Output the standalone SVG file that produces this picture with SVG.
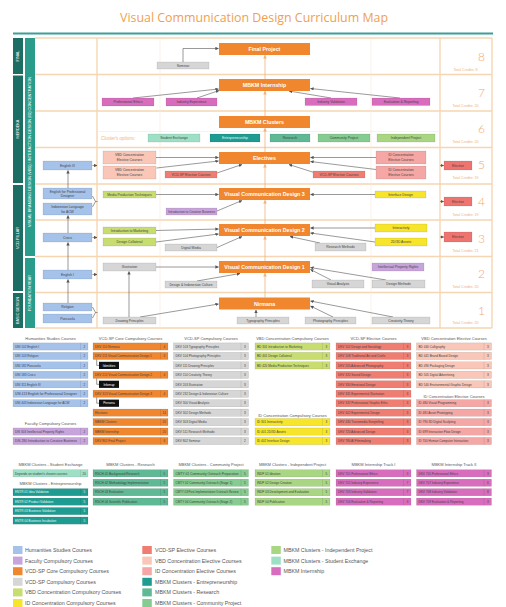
<svg xmlns="http://www.w3.org/2000/svg" width="506" height="607" viewBox="0 0 506 607">
<defs>
<marker id="a" viewBox="0 0 6 6" refX="5.5" refY="3" markerWidth="3.4" markerHeight="3.4" markerUnits="userSpaceOnUse" orient="auto"><path d="M0,0L6,3L0,6z" fill="#555"/></marker>
<marker id="ao" viewBox="0 0 6 6" refX="5.5" refY="3" markerWidth="3.6" markerHeight="3.6" markerUnits="userSpaceOnUse" orient="auto"><path d="M0,0L6,3L0,6z" fill="#f2b07a"/></marker>
</defs>
<style>
text{font-family:"Liberation Sans",Arial,sans-serif}
.ti{font-family:"Open Sans","Liberation Sans",sans-serif;font-size:13px;fill:#ee9f52}
.gl{stroke:#f6d6b2;stroke-width:1.4;fill:none}
.gf{stroke:#f9e8d8;stroke-width:.6;fill:none}
.lb{fill:#fff;font-size:3.8px;text-anchor:middle}
.m rect{fill:#f0862e}
.m text{fill:#fff;font-size:5.3px;font-weight:bold;text-anchor:middle}
.b text{font-size:3.4px;fill:#444;text-anchor:middle}
.b rect{stroke:rgba(0,0,0,.2);stroke-width:.4}
.lt text{fill:#e6f7f4}
.num{font-family:Lato,"Open Sans",sans-serif;font-weight:300;font-size:12px;fill:#f2a869;text-anchor:end}
.tc{font-size:3.6px;fill:#f0b07a;text-anchor:middle}
.c line{stroke:#555;stroke-width:.6;fill:none;marker-end:url(#a)}
.o line{stroke:#f2b07a;stroke-width:.8;marker-end:url(#ao)}
.r rect{stroke:rgba(0,0,0,.2);stroke-width:.4}
.r line{stroke:rgba(0,0,0,.2);stroke-width:.4}
.r text{font-size:3.1px;fill:#444}
.r .k{text-anchor:middle}
.rt text{fill:#e6f7f4}
.sb rect{fill:#111}
.sb text{font-size:3.1px;fill:#fff;text-anchor:middle}
.sb path{stroke:#333;stroke-width:.5;fill:none}
.h{font-size:4px;fill:#555;text-anchor:middle}
.lg text{font-size:5.3px;fill:#555}
.bl{fill:#a5c2ea}.pu{fill:#c8a4dc}.or{fill:#f0862e}.gr{fill:#d6d6d6}.li{fill:#c8dd70}.ye{fill:#f6e52b}
.sa{fill:#f07d72}.lv{fill:#f9c6b7}.pi{fill:#f5a7a5}.te{fill:#1f9c91}.rs{fill:#5fb995}.cm{fill:#86cb8f}
.ip{fill:#a8d682}.se{fill:#9ee0c6}.mg{fill:#d96dbd}.el{fill:#ef7470}
</style>
<rect width="506" height="607" fill="#fff"/>
<text class="ti" x="120" y="22" textLength="268" lengthAdjust="spacingAndGlyphs">Visual Communication Design Curriculum Map</text>
<line x1="13" y1="33.5" x2="493" y2="33.5" stroke="#3a9f98" stroke-width="1.8"/>

<g id="grid">
<path class="gl" d="M35,38H492M35,74.5H492M35,111H492M35,147.5H492M35,184H492M35,220H492M35,256.5H492M35,292.5H492M35,328H492M97,38V328M440,38V328M492,38V328"/>
<path class="gf" d="M160,38V328M371,38V328M97,131.5H440"/>
</g>

<g id="bars">
<rect x="13" y="38" width="10" height="36" fill="#1c6d64"/>
<rect x="13" y="75.5" width="10" height="107.5" fill="#1c6d64"/>
<rect x="13" y="185" width="10" height="106" fill="#1c6d64"/>
<rect x="13" y="293" width="10" height="35" fill="#1c6d64"/>
<rect x="25" y="38" width="10" height="218" fill="#2a9c8c"/>
<rect x="25" y="258" width="10" height="70" fill="#2a9c8c"/>
<text class="lb" transform="translate(19.3,56) rotate(-90)">FINAL</text>
<text class="lb" transform="translate(19.3,129) rotate(-90)">MERDEKA</text>
<text class="lb" transform="translate(19.3,238) rotate(-90)">VCD PILLAR</text>
<text class="lb" transform="translate(19.3,310.5) rotate(-90)">BASIC DESIGN</text>
<text class="lb" transform="translate(31.3,152) rotate(-90)" textLength="150" lengthAdjust="spacingAndGlyphs">VISUAL BRANDING DESIGN (VBD) / INTERACTION DESIGN (ID) CONCENTRATION</text>
<text class="lb" transform="translate(31.3,293) rotate(-90)">FOUNDATION YEAR</text>
</g>

<g id="credits">
<text class="num" x="485" y="61">8</text><text class="tc" x="465.5" y="71">Total Credits: 8</text>
<text class="num" x="485" y="97">7</text><text class="tc" x="465.5" y="106.5">Total Credits: 20</text>
<text class="num" x="485" y="133">6</text><text class="tc" x="465.5" y="142.7">Total Credits: 20</text>
<text class="num" x="485" y="169">5</text><text class="tc" x="465.5" y="179">Total Credits: 19</text>
<text class="num" x="485" y="206">4</text><text class="tc" x="465.5" y="215.5">Total Credits: 19</text>
<text class="num" x="485" y="242.5">3</text><text class="tc" x="465.5" y="251.7">Total Credits: 21</text>
<text class="num" x="485" y="278">2</text><text class="tc" x="465.5" y="287.7">Total Credits: 20</text>
<text class="num" x="485" y="315">1</text><text class="tc" x="465.5" y="324.3">Total Credits: 20</text>
</g>

<g id="connectors">
<g class="o">
<line x1="265" y1="297.5" x2="265" y2="273.2"/>
<line x1="265" y1="261" x2="265" y2="236.2"/>
<line x1="265" y1="224" x2="265" y2="200.2"/>
<line x1="265" y1="188" x2="265" y2="164.2"/>
<line x1="265" y1="152" x2="265" y2="128.2"/>
<line x1="265" y1="116" x2="265" y2="91.2"/>
<line x1="265" y1="79" x2="265" y2="55.2"/>
</g>
<g class="c">
<path d="M183,62V48.5H218.5" stroke="#555" stroke-width=".6" fill="none" marker-end="url(#a)"/>
<line x1="133" y1="98" x2="218.5" y2="89"/>
<line x1="197" y1="98" x2="219" y2="90.5"/>
<line x1="331" y1="98" x2="289" y2="91"/>
<line x1="400" y1="98" x2="310.5" y2="88.5"/>
<line x1="156" y1="157.5" x2="218.5" y2="157.5"/>
<line x1="156.5" y1="168" x2="218.5" y2="161"/>
<line x1="217" y1="173" x2="242" y2="164.5"/>
<line x1="376" y1="157.5" x2="310.5" y2="157.5"/>
<line x1="376" y1="169.5" x2="310.5" y2="161.5"/>
<line x1="314" y1="172.5" x2="289" y2="164.5"/>
<line x1="440" y1="165.5" x2="443.8" y2="165.5"/>
<line x1="156" y1="194.5" x2="218.5" y2="194.5"/>
<line x1="217" y1="211" x2="242" y2="200.5"/>
<line x1="375" y1="194.5" x2="310.5" y2="194.5"/>
<line x1="440" y1="201.5" x2="443.8" y2="201.5"/>
<line x1="156" y1="230.5" x2="218.5" y2="229"/>
<line x1="156" y1="242" x2="218.5" y2="234"/>
<line x1="217" y1="247.5" x2="242" y2="236.5"/>
<line x1="375" y1="228" x2="310.5" y2="228"/>
<line x1="375" y1="242" x2="310.5" y2="233"/>
<line x1="320" y1="243" x2="290" y2="236.5"/>
<line x1="440" y1="237" x2="443.8" y2="237"/>
<line x1="156" y1="267" x2="218.5" y2="267"/>
<line x1="197" y1="281" x2="240" y2="273.5"/>
<line x1="331" y1="280" x2="310.5" y2="269.5"/>
<line x1="386" y1="280" x2="310.5" y2="267.5"/>
<line x1="129" y1="317" x2="129" y2="271.5"/>
<line x1="140" y1="317" x2="218.5" y2="304"/>
<line x1="256" y1="317" x2="256" y2="310"/>
<line x1="333" y1="317" x2="310.5" y2="306"/>
<line x1="393" y1="317" x2="310.5" y2="301"/>
<line x1="68" y1="303" x2="68" y2="279.5"/>
<line x1="68" y1="270" x2="68" y2="242.5"/>
<line x1="68" y1="233" x2="68" y2="215.5"/>
<line x1="68" y1="188" x2="68" y2="170.5"/>
<line x1="92.5" y1="165.5" x2="97" y2="165.5"/>
<line x1="92.5" y1="237.5" x2="97" y2="237.5"/>
<line x1="92.5" y1="274.5" x2="97" y2="274.5"/>
<path d="M92.5,196L95.5,201.5L92.5,207M95.5,201.5H97.5" stroke="#555" stroke-width=".6" fill="none"/>
<path d="M92.5,307L95.5,312.5L92.5,318M95.5,312.5H97.5" stroke="#555" stroke-width=".6" fill="none"/>
</g>
</g>

<g id="final-project" class="m"><rect x="219" y="43" width="91" height="12"/><text x="264.5" y="51">Final Project</text></g>
<g id="mbkm-internship" class="m"><rect x="219" y="79" width="91" height="12"/><text x="264.5" y="87">MBKM Internship</text></g>
<g id="mbkm-clusters" class="m"><rect x="219" y="116" width="91" height="12"/><text x="264.5" y="124">MBKM Clusters</text></g>
<g id="electives" class="m"><rect x="219" y="152" width="91" height="12"/><text x="264.5" y="160">Electives</text></g>
<g id="vcd3" class="m"><rect x="219" y="188" width="91" height="12"/><text x="264.5" y="196">Visual Communication Design 3</text></g>
<g id="vcd2" class="m"><rect x="219" y="224" width="91" height="12"/><text x="264.5" y="232">Visual Communication Design 2</text></g>
<g id="vcd1" class="m"><rect x="219" y="261" width="91" height="12"/><text x="264.5" y="269">Visual Communication Design 1</text></g>
<g id="nirmana" class="m"><rect x="219" y="297.5" width="91" height="12"/><text x="264.5" y="305.5">Nirmana</text></g>

<g id="seminar" class="b"><rect class="gr" x="157" y="62" width="52" height="7"/><text x="183" y="66.7">Seminar</text></g>
<g id="prof-ethics" class="b"><rect class="mg" x="102" y="98" width="52" height="8"/><text x="128" y="103.2">Professional Ethics</text></g>
<g id="ind-exp" class="b"><rect class="mg" x="166" y="98" width="51" height="8"/><text x="191.5" y="103.2">Industry Experience</text></g>
<g id="ind-val" class="b"><rect class="mg" x="305" y="98" width="52" height="7.5"/><text x="331" y="103">Industry Validation</text></g>
<g id="eval-rep" class="b"><rect class="mg" x="372" y="98" width="58" height="7.5"/><text x="401" y="103">Evaluation &amp; Reporting</text></g>

<text x="101" y="139.8" font-size="4.5" font-style="italic" fill="#f0b47a">Cluster's options:</text>
<g id="opt-se" class="b"><rect class="se" x="148" y="134" width="52" height="8"/><text x="174" y="139.2">Student Exchange</text></g>
<g id="opt-en" class="b lt"><rect class="te" x="210" y="134" width="50" height="8"/><text x="235" y="139.2">Entrepreneurship</text></g>
<g id="opt-rs" class="b"><rect class="rs" x="270" y="134" width="40" height="8"/><text x="290" y="139.2">Research</text></g>
<g id="opt-cm" class="b"><rect class="cm" x="318" y="134" width="52" height="8"/><text x="344" y="139.2">Community Project</text></g>
<g id="opt-ip" class="b"><rect class="ip" x="377" y="134" width="58" height="8"/><text x="406" y="139.2">Independent Project</text></g>

<g id="english3" class="b"><rect class="bl" x="43" y="161" width="49" height="9"/><text x="67.5" y="166.7">English III</text></g>
<g id="vbd-el1" class="b"><rect class="lv" x="103" y="151" width="53" height="13"/><text x="129.5" y="156.3">VBD Concentration</text><text x="129.5" y="160.6">Elective Courses</text></g>
<g id="vbd-el2" class="b"><rect class="lv" x="103" y="166" width="53" height="13"/><text x="129.5" y="171.3">VBD Concentration</text><text x="129.5" y="175.6">Elective Courses</text></g>
<g id="vcdsp-el1" class="b"><rect class="sa" x="165" y="171" width="52" height="7"/><text x="191" y="175.7">VCD-SP Elective Courses</text></g>
<g id="vcdsp-el2" class="b"><rect class="sa" x="313" y="171" width="52" height="7"/><text x="339" y="175.7">VCD-SP Elective Courses</text></g>
<g id="id-el1" class="b"><rect class="pi" x="376" y="151" width="50" height="13"/><text x="401" y="156.3">ID Concentration</text><text x="401" y="160.6">Elective Courses</text></g>
<g id="id-el2" class="b"><rect class="pi" x="376" y="166" width="50" height="13"/><text x="401" y="171.3">ID Concentration</text><text x="401" y="175.6">Elective Courses</text></g>
<g id="elective5" class="b"><rect class="el" x="444" y="161" width="28" height="9"/><text x="458" y="166.7">Elective</text></g>

<g id="eng-pd" class="b"><rect class="bl" x="43" y="188" width="49" height="11"/><text x="67.5" y="192.7">English for Professional</text><text x="67.5" y="197">Designer</text></g>
<g id="ind-lang" class="b"><rect class="bl" x="43" y="203" width="49" height="12"/><text x="67.5" y="208.2">Indonesian Language</text><text x="67.5" y="212.5">for ACW</text></g>
<g id="media-prod" class="b"><rect class="li" x="103" y="191" width="53" height="7"/><text x="129.5" y="195.7">Media Production Techniques</text></g>
<g id="intro-cb" class="b"><rect class="pu" x="166" y="208" width="51" height="7"/><text x="191.5" y="212.7" textLength="47" lengthAdjust="spacingAndGlyphs">Introduction to Creative Business</text></g>
<g id="interface" class="b"><rect class="ye" x="375" y="191" width="51" height="7"/><text x="400.5" y="195.7">Interface Design</text></g>
<g id="elective4" class="b"><rect class="el" x="444" y="197" width="28" height="9"/><text x="458" y="202.7">Elective</text></g>

<g id="civics" class="b"><rect class="bl" x="43" y="233" width="49" height="9"/><text x="67.5" y="238.7">Civics</text></g>
<g id="intro-mkt" class="b"><rect class="li" x="103" y="227" width="53" height="7"/><text x="129.5" y="231.7">Introduction to Marketing</text></g>
<g id="design-col" class="b"><rect class="li" x="103" y="238" width="53" height="8"/><text x="129.5" y="243.2">Design Collateral</text></g>
<g id="digital-media" class="b"><rect class="gr" x="165" y="244" width="52" height="7"/><text x="191" y="248.7">Digital Media</text></g>
<g id="interactivity" class="b"><rect class="ye" x="375" y="224" width="52" height="8"/><text x="401" y="229.2">Interactivity</text></g>
<g id="assets" class="b"><rect class="ye" x="375" y="238" width="52" height="8"/><text x="401" y="243.2">2D/3D Assets</text></g>
<g id="research-m" class="b"><rect class="gr" x="315" y="243" width="51" height="8"/><text x="340.5" y="248.2">Research Methods</text></g>
<g id="elective3" class="b"><rect class="el" x="444" y="232" width="28" height="10"/><text x="458" y="238.2">Elective</text></g>

<g id="english1" class="b"><rect class="bl" x="43" y="270" width="49" height="9"/><text x="67.5" y="275.7">English I</text></g>
<g id="illustration" class="b"><rect class="gr" x="103" y="263" width="53" height="8"/><text x="129.5" y="268.2">Illustration</text></g>
<g id="design-ic" class="b"><rect class="gr" x="165" y="281" width="52" height="7"/><text x="191" y="285.7">Design &amp; Indonesian Culture</text></g>
<g id="ipr" class="b"><rect class="pu" x="372" y="263" width="52" height="8"/><text x="398" y="268.2">Intellectual Property Rights</text></g>
<g id="visual-an" class="b"><rect class="gr" x="312" y="280" width="52" height="8"/><text x="338" y="285.2">Visual Analysis</text></g>
<g id="design-m" class="b"><rect class="gr" x="372" y="280" width="53" height="8"/><text x="398.5" y="285.2">Design Methods</text></g>

<g id="religion" class="b"><rect class="bl" x="43" y="303" width="49" height="8"/><text x="67.5" y="308.2">Religion</text></g>
<g id="pancasila" class="b"><rect class="bl" x="43" y="314" width="49" height="9"/><text x="67.5" y="319.7">Pancasila</text></g>
<g id="drawing" class="b"><rect class="gr" x="103" y="317" width="53" height="7"/><text x="129.5" y="321.7">Drawing Principles</text></g>
<g id="typo" class="b"><rect class="gr" x="237" y="317" width="52" height="7"/><text x="263" y="321.7">Typography Principles</text></g>
<g id="photo" class="b"><rect class="gr" x="305" y="317" width="51" height="7"/><text x="330.5" y="321.7">Photography Principles</text></g>
<g id="creativity" class="b"><rect class="gr" x="372" y="317" width="58" height="7"/><text x="401" y="321.7">Creativity Theory</text></g>

<g id="tables">
<text class="h" x="50.5" y="340">Humanities Studies Courses</text>
<text class="h" x="130.5" y="340">VCD-SP Core Compulsory Courses</text>
<text class="h" x="211" y="340">VCD-SP Compulsory Courses</text>
<text class="h" x="292.5" y="340">VBD Concentration Compulsory Courses</text>
<text class="h" x="373.5" y="340">VCD-SP Elective Courses</text>
<text class="h" x="454" y="340">VBD Concentration Elective Courses</text>
<text class="h" x="50.5" y="425">Faculty Compulsory Courses</text>
<text class="h" x="292.5" y="416.5">ID Concentration Compulsory Courses</text>
<text class="h" x="454" y="397.5">ID Concentration Elective Courses</text>

<g id="hu0" class="r" transform="translate(13,342.9)"><rect class="bl" width="75" height="7.2"/><line x1="67.5" x2="67.5" y2="7.2"/><text x="2" y="4.85">UNI 102 English I</text><text class="k" x="71.3" y="4.85">2</text></g>
<g id="hu1" class="r" transform="translate(13,352.35)"><rect class="bl" width="75" height="7.2"/><line x1="67.5" x2="67.5" y2="7.2"/><text x="2" y="4.85">UNI 103 Religion</text><text class="k" x="71.3" y="4.85">2</text></g>
<g id="hu2" class="r" transform="translate(13,361.8)"><rect class="bl" width="75" height="7.2"/><line x1="67.5" x2="67.5" y2="7.2"/><text x="2" y="4.85">UNI 182 Pancasila</text><text class="k" x="71.3" y="4.85">2</text></g>
<g id="hu3" class="r" transform="translate(13,371.25)"><rect class="bl" width="75" height="7.2"/><line x1="67.5" x2="67.5" y2="7.2"/><text x="2" y="4.85">UNI 183 Civics</text><text class="k" x="71.3" y="4.85">2</text></g>
<g id="hu4" class="r" transform="translate(13,380.7)"><rect class="bl" width="75" height="7.2"/><line x1="67.5" x2="67.5" y2="7.2"/><text x="2" y="4.85">UNI 311 English III</text><text class="k" x="71.3" y="4.85">2</text></g>
<g id="hu5" class="r" transform="translate(13,390.15)"><rect class="bl" width="75" height="7.2"/><line x1="67.5" x2="67.5" y2="7.2"/><text x="2" y="4.85" textLength="62" lengthAdjust="spacingAndGlyphs">UNI 413 English for Professional Designer</text><text class="k" x="71.3" y="4.85">2</text></g>
<g id="hu6" class="r" transform="translate(13,399.6)"><rect class="bl" width="75" height="7.2"/><line x1="67.5" x2="67.5" y2="7.2"/><text x="2" y="4.85">UNI 443 Indonesian Language for ACW</text><text class="k" x="71.3" y="4.85">2</text></g>
<g id="fa0" class="r" transform="translate(13,427.95)"><rect class="pu" width="75" height="7.2"/><line x1="67.5" x2="67.5" y2="7.2"/><text x="2" y="4.85">DIS 303 Intellectual Property Rights</text><text class="k" x="71.3" y="4.85">2</text></g>
<g id="fa1" class="r" transform="translate(13,437.4)"><rect class="pu" width="75" height="7.2"/><line x1="67.5" x2="67.5" y2="7.2"/><text x="2" y="4.85" textLength="62" lengthAdjust="spacingAndGlyphs">DIS 280 Introduction to Creative Business</text><text class="k" x="71.3" y="4.85">2</text></g>

<g id="co0" class="r" transform="translate(93,342.9)"><rect class="or" width="75" height="7.2"/><line x1="67.5" x2="67.5" y2="7.2"/><text x="2" y="4.85">DKV 110 Nirmana</text><text class="k" x="71.3" y="4.85">4</text></g>
<g id="co1" class="r" transform="translate(93,352.35)"><rect class="or" width="75" height="7.2"/><line x1="67.5" x2="67.5" y2="7.2"/><text x="2" y="4.85">DKV 211 Visual Communication Design 1</text><text class="k" x="71.3" y="4.85">4</text></g>
<g id="co1s" class="sb" transform="translate(93,361.8)"><path d="M3.7,-2.2V3.6H6"/><rect x="6" width="20" height="7.2"/><text x="16" y="4.85">Identities</text></g>
<g id="co2" class="r" transform="translate(93,371.25)"><rect class="or" width="75" height="7.2"/><line x1="67.5" x2="67.5" y2="7.2"/><text x="2" y="4.85">DKV 212 Visual Communication Design 2</text><text class="k" x="71.3" y="4.85">4</text></g>
<g id="co2s" class="sb" transform="translate(93,380.7)"><path d="M3.7,-2.2V3.6H6"/><rect x="6" width="20" height="7.2"/><text x="16" y="4.85">Infomap</text></g>
<g id="co3" class="r" transform="translate(93,390.15)"><rect class="or" width="75" height="7.2"/><line x1="67.5" x2="67.5" y2="7.2"/><text x="2" y="4.85">DKV 313 Visual Communication Design 3</text><text class="k" x="71.3" y="4.85">4</text></g>
<g id="co3s" class="sb" transform="translate(93,399.6)"><path d="M3.7,-2.2V3.6H6"/><rect x="6" width="20" height="7.2"/><text x="16" y="4.85">Persona</text></g>
<g id="co4" class="r" transform="translate(93,409.05)"><rect class="or" width="75" height="7.2"/><line x1="67.5" x2="67.5" y2="7.2"/><text x="2" y="4.85">Electives</text><text class="k" x="71.3" y="4.85">14</text></g>
<g id="co5" class="r" transform="translate(93,418.5)"><rect class="or" width="75" height="7.2"/><line x1="67.5" x2="67.5" y2="7.2"/><text x="2" y="4.85">MBKM Clusters</text><text class="k" x="71.3" y="4.85">20</text></g>
<g id="co6" class="r" transform="translate(93,427.95)"><rect class="or" width="75" height="7.2"/><line x1="67.5" x2="67.5" y2="7.2"/><text x="2" y="4.85">MBKM Internship</text><text class="k" x="71.3" y="4.85">20</text></g>
<g id="co7" class="r" transform="translate(93,437.4)"><rect class="or" width="75" height="7.2"/><line x1="67.5" x2="67.5" y2="7.2"/><text x="2" y="4.85">DKV 801 Final Project</text><text class="k" x="71.3" y="4.85">6</text></g>

<g id="cp0" class="r" transform="translate(173.5,342.9)"><rect class="gr" width="75" height="7.2"/><line x1="67.5" x2="67.5" y2="7.2"/><text x="2" y="4.85">DKV 103 Typography Principles</text><text class="k" x="71.3" y="4.85">3</text></g>
<g id="cp1" class="r" transform="translate(173.5,352.35)"><rect class="gr" width="75" height="7.2"/><line x1="67.5" x2="67.5" y2="7.2"/><text x="2" y="4.85">DKV 104 Photography Principles</text><text class="k" x="71.3" y="4.85">3</text></g>
<g id="cp2" class="r" transform="translate(173.5,361.8)"><rect class="gr" width="75" height="7.2"/><line x1="67.5" x2="67.5" y2="7.2"/><text x="2" y="4.85">DKV 111 Drawing Principles</text><text class="k" x="71.3" y="4.85">3</text></g>
<g id="cp3" class="r" transform="translate(173.5,371.25)"><rect class="gr" width="75" height="7.2"/><line x1="67.5" x2="67.5" y2="7.2"/><text x="2" y="4.85">DKV 114 Creativity Theory</text><text class="k" x="71.3" y="4.85">3</text></g>
<g id="cp4" class="r" transform="translate(173.5,380.7)"><rect class="gr" width="75" height="7.2"/><line x1="67.5" x2="67.5" y2="7.2"/><text x="2" y="4.85">DKV 203 Illustration</text><text class="k" x="71.3" y="4.85">3</text></g>
<g id="cp5" class="r" transform="translate(173.5,390.15)"><rect class="gr" width="75" height="7.2"/><line x1="67.5" x2="67.5" y2="7.2"/><text x="2" y="4.85">DKV 232 Design &amp; Indonesian Culture</text><text class="k" x="71.3" y="4.85">3</text></g>
<g id="cp6" class="r" transform="translate(173.5,399.6)"><rect class="gr" width="75" height="7.2"/><line x1="67.5" x2="67.5" y2="7.2"/><text x="2" y="4.85">DKV 300 Visual Analysis</text><text class="k" x="71.3" y="4.85">3</text></g>
<g id="cp7" class="r" transform="translate(173.5,409.05)"><rect class="gr" width="75" height="7.2"/><line x1="67.5" x2="67.5" y2="7.2"/><text x="2" y="4.85">DKV 302 Design Methods</text><text class="k" x="71.3" y="4.85">3</text></g>
<g id="cp8" class="r" transform="translate(173.5,418.5)"><rect class="gr" width="75" height="7.2"/><line x1="67.5" x2="67.5" y2="7.2"/><text x="2" y="4.85">DKV 303 Digital Media</text><text class="k" x="71.3" y="4.85">3</text></g>
<g id="cp9" class="r" transform="translate(173.5,427.95)"><rect class="gr" width="75" height="7.2"/><line x1="67.5" x2="67.5" y2="7.2"/><text x="2" y="4.85">DKV 511 Research Methods</text><text class="k" x="71.3" y="4.85">3</text></g>
<g id="cp10" class="r" transform="translate(173.5,437.4)"><rect class="gr" width="75" height="7.2"/><line x1="67.5" x2="67.5" y2="7.2"/><text x="2" y="4.85">DKV 802 Seminar</text><text class="k" x="71.3" y="4.85">2</text></g>

<g id="vb0" class="r" transform="translate(255,342.9)"><rect class="li" width="75" height="7.2"/><line x1="67.5" x2="67.5" y2="7.2"/><text x="2" y="4.85">BD 301 Introduction to Marketing</text><text class="k" x="71.3" y="4.85">3</text></g>
<g id="vb1" class="r" transform="translate(255,352.35)"><rect class="li" width="75" height="7.2"/><line x1="67.5" x2="67.5" y2="7.2"/><text x="2" y="4.85">BD 401 Design Collateral</text><text class="k" x="71.3" y="4.85">3</text></g>
<g id="vb2" class="r" transform="translate(255,361.8)"><rect class="li" width="75" height="7.2"/><line x1="67.5" x2="67.5" y2="7.2"/><text x="2" y="4.85">BD 420 Media Production Techniques</text><text class="k" x="71.3" y="4.85">3</text></g>
<g id="ic0" class="r" transform="translate(255,418.5)"><rect class="ye" width="75" height="7.2"/><line x1="67.5" x2="67.5" y2="7.2"/><text x="2" y="4.85">ID 301 Interactivity</text><text class="k" x="71.3" y="4.85">3</text></g>
<g id="ic1" class="r" transform="translate(255,427.95)"><rect class="ye" width="75" height="7.2"/><line x1="67.5" x2="67.5" y2="7.2"/><text x="2" y="4.85">ID 401 2D/3D Assets</text><text class="k" x="71.3" y="4.85">3</text></g>
<g id="ic2" class="r" transform="translate(255,437.4)"><rect class="ye" width="75" height="7.2"/><line x1="67.5" x2="67.5" y2="7.2"/><text x="2" y="4.85">ID 402 Interface Design</text><text class="k" x="71.3" y="4.85">3</text></g>

<g id="ve0" class="r" transform="translate(336,342.9)"><rect class="sa" width="75" height="7.2"/><line x1="67.5" x2="67.5" y2="7.2"/><text x="2" y="4.85">DKV 102 Design and Sociology</text><text class="k" x="71.3" y="4.85">3</text></g>
<g id="ve1" class="r" transform="translate(336,352.35)"><rect class="sa" width="75" height="7.2"/><line x1="67.5" x2="67.5" y2="7.2"/><text x="2" y="4.85">DKV 108 Traditional Art and Crafts</text><text class="k" x="71.3" y="4.85">3</text></g>
<g id="ve2" class="r" transform="translate(336,361.8)"><rect class="sa" width="75" height="7.2"/><line x1="67.5" x2="67.5" y2="7.2"/><text x="2" y="4.85">DKV 205 Advanced Photography</text><text class="k" x="71.3" y="4.85">3</text></g>
<g id="ve3" class="r" transform="translate(336,371.25)"><rect class="sa" width="75" height="7.2"/><line x1="67.5" x2="67.5" y2="7.2"/><text x="2" y="4.85">DKV 320 Sound Design</text><text class="k" x="71.3" y="4.85">3</text></g>
<g id="ve4" class="r" transform="translate(336,380.7)"><rect class="sa" width="75" height="7.2"/><line x1="67.5" x2="67.5" y2="7.2"/><text x="2" y="4.85">DKV 330 Emotional Design</text><text class="k" x="71.3" y="4.85">3</text></g>
<g id="ve5" class="r" transform="translate(336,390.15)"><rect class="sa" width="75" height="7.2"/><line x1="67.5" x2="67.5" y2="7.2"/><text x="2" y="4.85">DKV 331 Experimental Illustration</text><text class="k" x="71.3" y="4.85">3</text></g>
<g id="ve6" class="r" transform="translate(336,399.6)"><rect class="sa" width="75" height="7.2"/><line x1="67.5" x2="67.5" y2="7.2"/><text x="2" y="4.85">DKV 332 Professional Graphic Ethic</text><text class="k" x="71.3" y="4.85">3</text></g>
<g id="ve7" class="r" transform="translate(336,409.05)"><rect class="sa" width="75" height="7.2"/><line x1="67.5" x2="67.5" y2="7.2"/><text x="2" y="4.85">DKV 402 Experimental Design</text><text class="k" x="71.3" y="4.85">3</text></g>
<g id="ve8" class="r" transform="translate(336,418.5)"><rect class="sa" width="75" height="7.2"/><line x1="67.5" x2="67.5" y2="7.2"/><text x="2" y="4.85">DKV 430 Transmedia Storytelling</text><text class="k" x="71.3" y="4.85">3</text></g>
<g id="ve9" class="r" transform="translate(336,427.95)"><rect class="sa" width="75" height="7.2"/><line x1="67.5" x2="67.5" y2="7.2"/><text x="2" y="4.85">DKV 720 Advanced Design</text><text class="k" x="71.3" y="4.85">3</text></g>
<g id="ve10" class="r" transform="translate(336,437.4)"><rect class="sa" width="75" height="7.2"/><line x1="67.5" x2="67.5" y2="7.2"/><text x="2" y="4.85">DKV 780 AI Filmmaking</text><text class="k" x="71.3" y="4.85">3</text></g>

<g id="be0" class="r" transform="translate(416.5,342.9)"><rect class="lv" width="75" height="7.2"/><line x1="67.5" x2="67.5" y2="7.2"/><text x="2" y="4.85">BD 440 Calligraphy</text><text class="k" x="71.3" y="4.85">3</text></g>
<g id="be1" class="r" transform="translate(416.5,352.35)"><rect class="lv" width="75" height="7.2"/><line x1="67.5" x2="67.5" y2="7.2"/><text x="2" y="4.85">BD 441 Brand Based Design</text><text class="k" x="71.3" y="4.85">3</text></g>
<g id="be2" class="r" transform="translate(416.5,361.8)"><rect class="lv" width="75" height="7.2"/><line x1="67.5" x2="67.5" y2="7.2"/><text x="2" y="4.85">BD 490 Packaging Design</text><text class="k" x="71.3" y="4.85">3</text></g>
<g id="be3" class="r" transform="translate(416.5,371.25)"><rect class="lv" width="75" height="7.2"/><line x1="67.5" x2="67.5" y2="7.2"/><text x="2" y="4.85">BD 505 Digital Advertising</text><text class="k" x="71.3" y="4.85">3</text></g>
<g id="be4" class="r" transform="translate(416.5,380.7)"><rect class="lv" width="75" height="7.2"/><line x1="67.5" x2="67.5" y2="7.2"/><text x="2" y="4.85">BD 540 Environmental Graphic Design</text><text class="k" x="71.3" y="4.85">3</text></g>
<g id="ie0" class="r" transform="translate(416.5,399.6)"><rect class="pi" width="75" height="7.2"/><line x1="67.5" x2="67.5" y2="7.2"/><text x="2" y="4.85">ID 480 Visual Programming</text><text class="k" x="71.3" y="4.85">3</text></g>
<g id="ie1" class="r" transform="translate(416.5,409.05)"><rect class="pi" width="75" height="7.2"/><line x1="67.5" x2="67.5" y2="7.2"/><text x="2" y="4.85">ID 481 Asset Prototyping</text><text class="k" x="71.3" y="4.85">3</text></g>
<g id="ie2" class="r" transform="translate(416.5,418.5)"><rect class="pi" width="75" height="7.2"/><line x1="67.5" x2="67.5" y2="7.2"/><text x="2" y="4.85">ID 790 3D Digital Sculpting</text><text class="k" x="71.3" y="4.85">3</text></g>
<g id="ie3" class="r" transform="translate(416.5,427.95)"><rect class="pi" width="75" height="7.2"/><line x1="67.5" x2="67.5" y2="7.2"/><text x="2" y="4.85">ID 699 Interaction Flow Design</text><text class="k" x="71.3" y="4.85">3</text></g>
<g id="ie4" class="r" transform="translate(416.5,437.4)"><rect class="pi" width="75" height="7.2"/><line x1="67.5" x2="67.5" y2="7.2"/><text x="2" y="4.85">ID 700 Human Computer Interaction</text><text class="k" x="71.3" y="4.85">3</text></g>
</g>

<g id="mbkm-tables">
<text class="h" x="50.5" y="465.6">MBKM Clusters - Student Exchange</text>
<text class="h" x="130.5" y="465.6">MBKM Clusters - Research</text>
<text class="h" x="211" y="465.6">MBKM Clusters - Community Project</text>
<text class="h" x="292.5" y="465.6">MBKM Clusters - Independent Project</text>
<text class="h" x="373.5" y="465.6">MBKM Internship Track I</text>
<text class="h" x="454" y="465.6">MBKM Internship Track II</text>
<text class="h" x="50.5" y="485">MBKM Clusters - Entrepreneurship</text>

<g id="se0" class="r" transform="translate(13,469.7)"><rect class="se" width="75" height="7.2"/><line x1="67.5" x2="67.5" y2="7.2"/><text x="2" y="4.85">Depends on student's chosen courses</text><text class="k" x="71.3" y="4.85">20</text></g>
<g id="en0" class="r rt" transform="translate(13,488.6)"><rect class="te" width="75" height="7.2"/><line x1="67.5" x2="67.5" y2="7.2"/><text x="2" y="4.85">ENTR 01 Idea Validation</text><text class="k" x="71.3" y="4.85">5</text></g>
<g id="en1" class="r rt" transform="translate(13,498.05)"><rect class="te" width="75" height="7.2"/><line x1="67.5" x2="67.5" y2="7.2"/><text x="2" y="4.85">ENTR 02 Product Validation</text><text class="k" x="71.3" y="4.85">5</text></g>
<g id="en2" class="r rt" transform="translate(13,507.5)"><rect class="te" width="75" height="7.2"/><line x1="67.5" x2="67.5" y2="7.2"/><text x="2" y="4.85">ENTR 03 Business Validation</text><text class="k" x="71.3" y="4.85">5</text></g>
<g id="en3" class="r rt" transform="translate(13,516.95)"><rect class="te" width="75" height="7.2"/><line x1="67.5" x2="67.5" y2="7.2"/><text x="2" y="4.85">ENTR 04 Business Incubation</text><text class="k" x="71.3" y="4.85">5</text></g>

<g id="rs0" class="r" transform="translate(93,469.7)"><rect class="rs" width="75" height="7.2"/><line x1="67.5" x2="67.5" y2="7.2"/><text x="2" y="4.85">RSCH 01 Background Research</text><text class="k" x="71.3" y="4.85">5</text></g>
<g id="rs1" class="r" transform="translate(93,479.15)"><rect class="rs" width="75" height="7.2"/><line x1="67.5" x2="67.5" y2="7.2"/><text x="2" y="4.85">RSCH 02 Methodology Implementation</text><text class="k" x="71.3" y="4.85">5</text></g>
<g id="rs2" class="r" transform="translate(93,488.6)"><rect class="rs" width="75" height="7.2"/><line x1="67.5" x2="67.5" y2="7.2"/><text x="2" y="4.85">RSCH 03 Evaluation</text><text class="k" x="71.3" y="4.85">5</text></g>
<g id="rs3" class="r" transform="translate(93,498.05)"><rect class="rs" width="75" height="7.2"/><line x1="67.5" x2="67.5" y2="7.2"/><text x="2" y="4.85">RSCH 04 Scientific Publication</text><text class="k" x="71.3" y="4.85">5</text></g>

<g id="cm0" class="r" transform="translate(173.5,469.7)"><rect class="cm" width="75" height="7.2"/><line x1="67.5" x2="67.5" y2="7.2"/><text x="2" y="4.85" textLength="63" lengthAdjust="spacingAndGlyphs">CMTY 01 Community Outreach Preparation</text><text class="k" x="71.3" y="4.85">5</text></g>
<g id="cm1" class="r" transform="translate(173.5,479.15)"><rect class="cm" width="75" height="7.2"/><line x1="67.5" x2="67.5" y2="7.2"/><text x="2" y="4.85">CMTY 02 Community Outreach (Stage 1)</text><text class="k" x="71.3" y="4.85">5</text></g>
<g id="cm2" class="r" transform="translate(173.5,488.6)"><rect class="cm" width="75" height="7.2"/><line x1="67.5" x2="67.5" y2="7.2"/><text x="2" y="4.85" textLength="63" lengthAdjust="spacingAndGlyphs">CMTY 03 Post-Implementation Outreach Review</text><text class="k" x="71.3" y="4.85">5</text></g>
<g id="cm3" class="r" transform="translate(173.5,498.05)"><rect class="cm" width="75" height="7.2"/><line x1="67.5" x2="67.5" y2="7.2"/><text x="2" y="4.85">CMTY 04 Community Outreach (Stage 2)</text><text class="k" x="71.3" y="4.85">5</text></g>

<g id="ip0" class="r" transform="translate(255,469.7)"><rect class="ip" width="75" height="7.2"/><line x1="67.5" x2="67.5" y2="7.2"/><text x="2" y="4.85">INDP 01 Ideation</text><text class="k" x="71.3" y="4.85">5</text></g>
<g id="ip1" class="r" transform="translate(255,479.15)"><rect class="ip" width="75" height="7.2"/><line x1="67.5" x2="67.5" y2="7.2"/><text x="2" y="4.85">INDP 02 Design Creation</text><text class="k" x="71.3" y="4.85">5</text></g>
<g id="ip2" class="r" transform="translate(255,488.6)"><rect class="ip" width="75" height="7.2"/><line x1="67.5" x2="67.5" y2="7.2"/><text x="2" y="4.85">INDP 03 Development and Evaluation</text><text class="k" x="71.3" y="4.85">5</text></g>
<g id="ip3" class="r" transform="translate(255,498.05)"><rect class="ip" width="75" height="7.2"/><line x1="67.5" x2="67.5" y2="7.2"/><text x="2" y="4.85">INDP 04 Publication</text><text class="k" x="71.3" y="4.85">5</text></g>

<g id="t1a" class="r" transform="translate(336,469.7)"><rect class="mg" width="75" height="7.2"/><line x1="67.5" x2="67.5" y2="7.2"/><text x="2" y="4.85">DKV 701 Professional Ethics</text><text class="k" x="71.3" y="4.85">3</text></g>
<g id="t1b" class="r" transform="translate(336,479.15)"><rect class="mg" width="75" height="7.2"/><line x1="67.5" x2="67.5" y2="7.2"/><text x="2" y="4.85">DKV 702 Industry Experience</text><text class="k" x="71.3" y="4.85">7</text></g>
<g id="t1c" class="r" transform="translate(336,488.6)"><rect class="mg" width="75" height="7.2"/><line x1="67.5" x2="67.5" y2="7.2"/><text x="2" y="4.85">DKV 703 Industry Validation</text><text class="k" x="71.3" y="4.85">7</text></g>
<g id="t1d" class="r" transform="translate(336,498.05)"><rect class="mg" width="75" height="7.2"/><line x1="67.5" x2="67.5" y2="7.2"/><text x="2" y="4.85">DKV 704 Evaluation &amp; Reporting</text><text class="k" x="71.3" y="4.85">3</text></g>

<g id="t2a" class="r" transform="translate(416.5,469.7)"><rect class="mg" width="75" height="7.2"/><line x1="67.5" x2="67.5" y2="7.2"/><text x="2" y="4.85">DKV 705 Professional Ethics</text><text class="k" x="71.3" y="4.85">3</text></g>
<g id="t2b" class="r" transform="translate(416.5,479.15)"><rect class="mg" width="75" height="7.2"/><line x1="67.5" x2="67.5" y2="7.2"/><text x="2" y="4.85">DKV 707 Industry Experience</text><text class="k" x="71.3" y="4.85">6</text></g>
<g id="t2c" class="r" transform="translate(416.5,488.6)"><rect class="mg" width="75" height="7.2"/><line x1="67.5" x2="67.5" y2="7.2"/><text x="2" y="4.85">DKV 708 Industry Validation</text><text class="k" x="71.3" y="4.85">8</text></g>
<g id="t2d" class="r" transform="translate(416.5,498.05)"><rect class="mg" width="75" height="7.2"/><line x1="67.5" x2="67.5" y2="7.2"/><text x="2" y="4.85">DKV 709 Evaluation &amp; Reporting</text><text class="k" x="71.3" y="4.85">3</text></g>
</g>

<g id="legend" class="lg">
<rect class="bl" x="13" y="546" width="9.5" height="8"/><text x="25" y="551.9">Humanities Studies Courses</text>
<rect class="pu" x="13" y="556.6" width="9.5" height="8"/><text x="25" y="562.5">Faculty Compulsory Courses</text>
<rect class="or" x="13" y="567.2" width="9.5" height="8"/><text x="25" y="573.1">VCD-SP Core Compulsory Courses</text>
<rect class="gr" x="13" y="577.8" width="9.5" height="8"/><text x="25" y="583.7">VCD-SP Compulsory Courses</text>
<rect class="li" x="13" y="588.4" width="9.5" height="8"/><text x="25" y="594.3">VBD Concentration Compulsory Courses</text>
<rect class="ye" x="13" y="599" width="9.5" height="8"/><text x="25" y="604.9">ID Concentration Compulsory Courses</text>
<rect class="sa" x="142.3" y="546" width="9.5" height="8"/><text x="155" y="551.9">VCD-SP Elective Courses</text>
<rect class="lv" x="142.3" y="556.6" width="9.5" height="8"/><text x="155" y="562.5">VBD Concentration Elective Courses</text>
<rect class="pi" x="142.3" y="567.2" width="9.5" height="8"/><text x="155" y="573.1">ID Concentration Elective Courses</text>
<rect class="te" x="142.3" y="577.8" width="9.5" height="8"/><text x="155" y="583.7">MBKM Clusters - Entrepreneurship</text>
<rect class="rs" x="142.3" y="588.4" width="9.5" height="8"/><text x="155" y="594.3">MBKM Clusters - Research</text>
<rect class="cm" x="142.3" y="599" width="9.5" height="8"/><text x="155" y="604.9">MBKM Clusters - Community Project</text>
<rect class="ip" x="271.3" y="546" width="9.5" height="8"/><text x="283.5" y="551.9">MBKM Clusters - Independent Project</text>
<rect class="se" x="271.3" y="556.6" width="9.5" height="8"/><text x="283.5" y="562.5">MBKM Clusters - Student Exchange</text>
<rect class="mg" x="271.3" y="567.2" width="9.5" height="8"/><text x="283.5" y="573.1">MBKM Internship</text>
</g>
</svg>
